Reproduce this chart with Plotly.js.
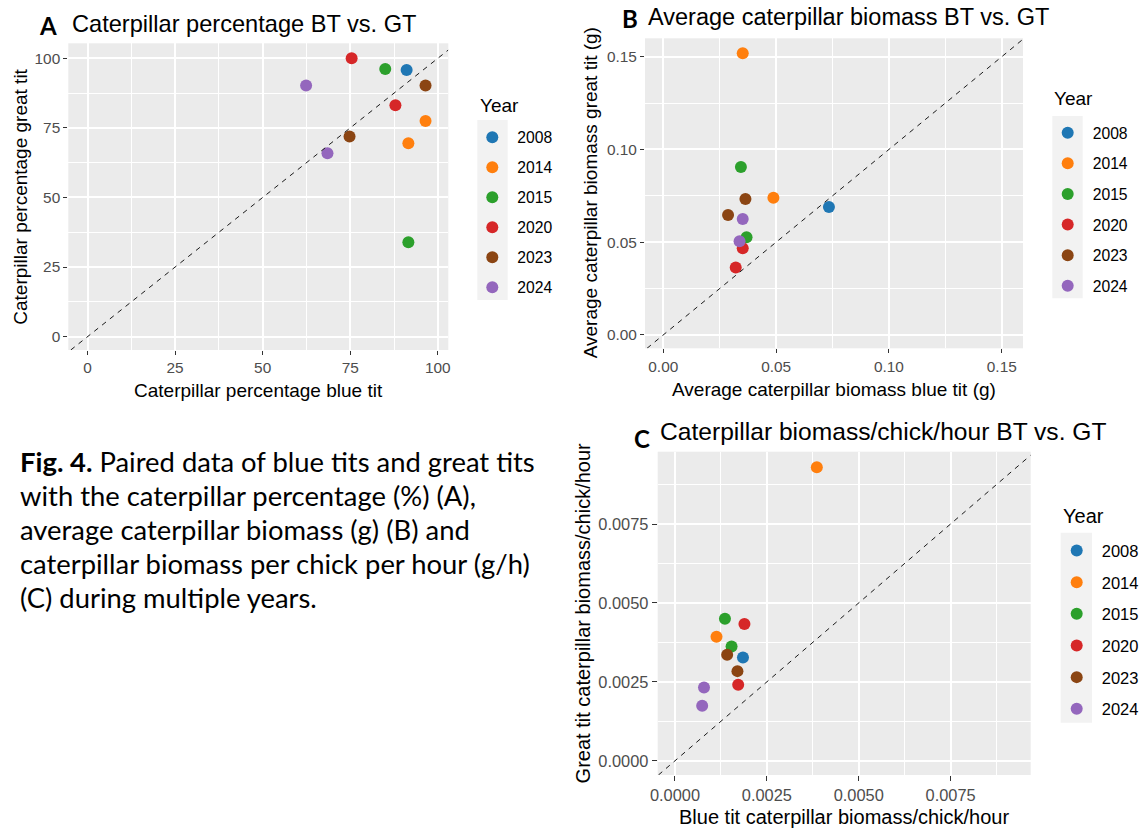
<!DOCTYPE html>
<html>
<head>
<meta charset="utf-8">
<script src="https://cdn.plot.ly/plotly-3.0.1.min.js"></script>
<style>
  html, body { margin: 0; padding: 0; background: #ffffff; }
  #chart { width: 1143px; height: 828px; }
</style>
</head>
<body>
<div id="chart"></div>
<script>
// ---------- data ----------
const years      = ['2008', '2014', '2015', '2020', '2023', '2024'];
const yearColors = ['#1F77B4', '#FF7F0E', '#2CA02C', '#D62728', '#8B4513', '#9467BD'];

// A: caterpillar percentage (%)
const pctYear  = ['2008', '2014', '2014', '2015', '2015', '2020', '2020', '2023', '2023', '2024', '2024'];
const pctBlue  = [91.1, 96.5, 91.6, 85.0, 91.6, 75.4, 87.9, 96.5, 74.8, 62.4, 68.5];
const pctGreat = [95.8, 77.5, 69.5, 96.2, 33.9, 100.0, 83.1, 90.2, 71.9, 90.2, 65.9];

// B: average caterpillar biomass (g)
const bioYear  = ['2008', '2014', '2014', '2015', '2015', '2020', '2020', '2023', '2023', '2024', '2024'];
const bioBlue  = [0.0734, 0.0352, 0.0488, 0.0344, 0.0369, 0.0352, 0.0321, 0.0364, 0.0287, 0.0352, 0.0338];
const bioGreat = [0.0690, 0.1518, 0.0740, 0.0905, 0.0526, 0.0467, 0.0363, 0.0733, 0.0647, 0.0625, 0.0505];

// C: caterpillar biomass per chick per hour (g/h)
const rateYear  = ['2008', '2014', '2014', '2015', '2015', '2020', '2020', '2023', '2023', '2024', '2024'];
const rateBlue  = [0.00185, 0.00386, 0.00113, 0.00136, 0.00154, 0.00189, 0.00172, 0.00142, 0.00170, 0.00079, 0.00074];
const rateGreat = [0.00327, 0.00930, 0.00393, 0.00450, 0.00362, 0.00433, 0.00241, 0.00336, 0.00284, 0.00232, 0.00174];

const captionLines = [
  '<b>Fig. 4.</b> Paired data of blue tits and great tits',
  'with the caterpillar percentage (%) (A),',
  'average caterpillar biomass (g) (B) and',
  'caterpillar biomass per chick per hour (g/h)',
  '(C) during multiple years.'
];

// ---------- helpers ----------
const W = 1143, H = 828;
const px = v => v / W;
const py = v => 1 - v / H;
const SANS = 'Liberation Sans, Arial, sans-serif';
const CAP = 'Lato, Carlito, Calibri, sans-serif';

const panels = [
  { id: 'A', xa: 'x',  ya: 'y',  legend: 'legend',  yr: pctYear,  xs: pctBlue,  ys: pctGreat },
  { id: 'B', xa: 'x2', ya: 'y2', legend: 'legend2', yr: bioYear,  xs: bioBlue,  ys: bioGreat },
  { id: 'C', xa: 'x3', ya: 'y3', legend: 'legend3', yr: rateYear, xs: rateBlue, ys: rateGreat }
];

const traces = [];
panels.forEach(p => {
  years.forEach((yv, k) => {
    const idx = p.yr.map((v, i) => v === yv ? i : -1).filter(i => i >= 0);
    traces.push({
      type: 'scatter', mode: 'markers',
      x: idx.map(i => p.xs[i]), y: idx.map(i => p.ys[i]),
      xaxis: p.xa, yaxis: p.ya,
      name: yv, legend: p.legend, legendgroup: p.id + yv,
      marker: { color: yearColors[k], size: 12 },
      hoverinfo: 'skip'
    });
  });
});

function axis(dom, range, dtick, fmt, fsize, anchor, ticklen) {
  return {
    domain: dom, range: range, autorange: false, anchor: anchor,
    tick0: 0, dtick: dtick, tickformat: fmt,
    showgrid: true, gridcolor: '#FFFFFF', gridwidth: 2,
    zeroline: false, showline: false,
    ticks: 'outside', ticklen: ticklen, tickwidth: 1, tickcolor: '#333333',
    tickfont: { family: SANS, size: fsize, color: '#4D4D4D' },
    minor: { tick0: dtick / 2, dtick: dtick, showgrid: true, gridcolor: '#FFFFFF', gridwidth: 1 },
    fixedrange: true
  };
}

const rA = { x: [-5.5, 103.0], y: [-4.8, 105.4] };
const rB = { x: [-0.0081, 0.1594], y: [-0.0072, 0.1599] };
const rC = { x: [-0.00047, 0.00968], y: [-0.00045, 0.00979] };

function diag(r, xref, yref) {
  const lo = Math.max(r.x[0], r.y[0]), hi = Math.min(r.x[1], r.y[1]);
  return { type: 'line', xref: xref, yref: yref, x0: lo, y0: lo, x1: hi, y1: hi,
           line: { color: '#1A1A1A', width: 1, dash: '5px,5px' }, layer: 'above' };
}
function keyBox(x0, x1, y0, y1) {
  return { type: 'rect', xref: 'paper', yref: 'paper', x0: px(x0), x1: px(x1), y0: py(y1), y1: py(y0),
           fillcolor: '#F2F2F2', line: { width: 0 }, layer: 'below' };
}
function ann(text, x, y, size, opts) {
  return Object.assign({ text: text, xref: 'paper', yref: 'paper', x: px(x), y: py(y),
    xanchor: 'center', yanchor: 'middle', showarrow: false,
    font: { family: SANS, size: size, color: '#000000' } }, opts || {});
}
function legendCfg(x, top, fsize, gap) {
  return { x: px(x), y: py(top), xanchor: 'left', yanchor: 'top', itemwidth: 40,
           bgcolor: 'rgba(0,0,0,0)', borderwidth: 0, traceorder: 'grouped', tracegroupgap: gap,
           font: { family: SANS, size: fsize, color: '#000000' }, itemclick: false, itemdoubleclick: false };
}

const annotations = [
  // panel titles
  ann('Caterpillar percentage BT vs. GT', 70, 23.7, 23.6, { xanchor: 'left' }),
  ann('Average caterpillar biomass BT vs. GT', 646, 17.5, 23.5, { xanchor: 'left' }),
  ann('Caterpillar biomass/chick/hour BT vs. GT', 658, 431, 24.6, { xanchor: 'left' }),
  // panel letters
  ann('<b>A</b>', 37, 25, 24, { xanchor: 'left', font: { family: CAP, size: 24, color: '#000000' } }),
  ann('<b>B</b>', 620, 19, 24, { xanchor: 'left', font: { family: CAP, size: 24, color: '#000000' } }),
  ann('<b>C</b>', 632, 438, 24, { xanchor: 'left', font: { family: CAP, size: 24, color: '#000000' } }),
  // axis titles
  ann('Caterpillar percentage blue tit', 258.3, 390, 19),
  ann('Caterpillar percentage great tit', 21, 196.7, 19, { textangle: -90 }),
  ann('Average caterpillar biomass blue tit (g)', 834, 389.5, 19),
  ann('Average caterpillar biomass great tit (g)', 590, 193.3, 19, { textangle: -90 }),
  ann('Blue tit caterpillar biomass/chick/hour', 844.2, 817, 20),
  ann('Great tit caterpillar biomass/chick/hour', 583, 613.4, 20, { textangle: -90 }),
  // legend titles
  ann('Year', 478.3, 105, 19, { xanchor: 'left' }),
  ann('Year', 1051.7, 99, 19, { xanchor: 'left' }),
  ann('Year', 1060.7, 516, 20, { xanchor: 'left' })
];
const captionY = [461, 495, 529, 563, 597];
captionLines.forEach((t, i) => {
  annotations.push(ann(t, 18, captionY[i], 27.4, { xanchor: 'left', font: { family: CAP, size: 27.4, color: '#000000' } }));
});

const layout = {
  width: W, height: H,
  margin: { l: 0, r: 0, t: 0, b: 0, pad: 0, autoexpand: false },
  paper_bgcolor: '#FFFFFF', plot_bgcolor: '#EBEBEB',
  showlegend: true, hovermode: false,
  xaxis:  axis([px(68.3), px(448.3)], rA.x, 25, '', 15.4, 'y', 4),
  yaxis:  axis([py(350), py(43.3)], rA.y, 25, '', 15.4, 'x', 4),
  xaxis2: axis([px(645), px(1023)], rB.x, 0.05, '.2f', 15.4, 'y2', 4),
  yaxis2: axis([py(348.3), py(38.3)], rB.y, 0.05, '.2f', 15.4, 'x2', 4),
  xaxis3: axis([px(657.7), px(1030.7)], rC.x, 0.0025, '.4f', 16.4, 'y3', 5),
  yaxis3: axis([py(775), py(451.7)], rC.y, 0.0025, '.4f', 16.4, 'x3', 5),
  legend:  legendCfg(467.3, 120.6, 15.7, 6.6),
  legend2: legendCfg(1042.7, 116, 15.7, 7.2),
  legend3: legendCfg(1051.7, 533.3, 16.5, 7.2),
  shapes: [
    diag(rA, 'x', 'y'), diag(rB, 'x2', 'y2'), diag(rC, 'x3', 'y3'),
    keyBox(477.3, 507.7, 120, 300),
    keyBox(1052.3, 1082.7, 116, 298.3),
    keyBox(1060.7, 1092, 532.7, 722.7)
  ],
  annotations: annotations
};

Plotly.newPlot('chart', traces, layout, { staticPlot: true, displayModeBar: false });
</script>
</body>
</html>
